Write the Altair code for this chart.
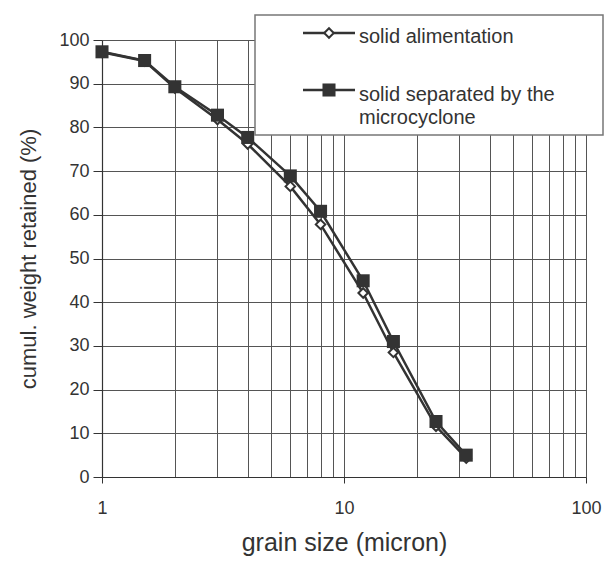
import altair as alt
import pandas as pd

# ---- data ----
grain_size = [1, 1.5, 2, 3, 4, 6, 8, 12, 16, 24, 32]
solid_alimentation = [97.2, 95.2, 89.0, 81.8, 76.2, 66.5, 57.8, 42.1, 28.5, 11.6, 4.3]
solid_separated = [97.3, 95.3, 89.3, 82.8, 77.7, 68.9, 60.8, 44.9, 31.0, 12.7, 5.0]
series_names = ["solid alimentation", "solid separated by the microcyclone"]
x_grid_values = [1, 2, 3, 4, 5, 6, 7, 8, 9, 10, 20, 30, 40, 50, 60, 70, 80, 90, 100]
y_tick_values = [0, 10, 20, 30, 40, 50, 60, 70, 80, 90, 100]

FONT = "Liberation Sans"
DARK = "#333333"

df_alim = pd.DataFrame({"grain": grain_size, "pct": solid_alimentation, "series": series_names[0]})
df_sep = pd.DataFrame({"grain": grain_size, "pct": solid_separated, "series": series_names[1]})

x_enc = alt.X(
    "grain:Q",
    scale=alt.Scale(type="log", domain=[1, 100]),
    title="grain size (micron)",
    axis=alt.Axis(
        values=x_grid_values,
        labelExpr="(datum.value == 1 || datum.value == 10 || datum.value == 100) ? datum.value : ''",
        labelFlush=False,
        labelOverlap=False,
        tickSize=6,
        tickColor={"condition": {"test": "datum.value == 1 || datum.value == 10 || datum.value == 100",
                                 "value": DARK}, "value": "transparent"},
        labelPadding=16,
        titlePadding=13,
        titleFontSize=25,
    ),
)
y_enc = alt.Y(
    "pct:Q",
    scale=alt.Scale(domain=[0, 100]),
    title="cumul. weight retained (%)",
    axis=alt.Axis(
        values=y_tick_values,
        tickSize=9,
        tickColor=DARK,
        labelPadding=4,
        titlePadding=18,
        titleFontSize=22,
    ),
)

line_alim = alt.Chart(df_alim).mark_line(color=DARK, strokeWidth=2.5).encode(x=x_enc, y=y_enc)
pts_alim = alt.Chart(df_alim).mark_point(
    shape="diamond", filled=True, fill="white", stroke=DARK, strokeWidth=2, size=90, opacity=1
).encode(x=x_enc, y=y_enc)
line_sep = alt.Chart(df_sep).mark_line(color=DARK, strokeWidth=2.5).encode(x=x_enc, y=y_enc)
pts_sep = alt.Chart(df_sep).mark_point(
    shape="square", filled=True, color=DARK, size=170, opacity=1
).encode(x=x_enc, y=y_enc)

# ---- legend box drawn by hand ----
one = pd.DataFrame({"k": [0]})
leg_box = alt.Chart(one).mark_rect(fill="white", stroke="#777777", strokeWidth=1.5).encode(
    x=alt.value(153), x2=alt.value(501), y=alt.value(-25), y2=alt.value(95)
)
leg_line1 = alt.Chart(one).mark_rule(color=DARK, strokeWidth=2.5).encode(
    x=alt.value(201), x2=alt.value(253), y=alt.value(-7)
)
leg_pt1 = alt.Chart(one).mark_point(
    shape="diamond", filled=True, fill="white", stroke=DARK, strokeWidth=2, size=90, opacity=1
).encode(x=alt.value(227), y=alt.value(-7))
leg_txt1 = alt.Chart(one).mark_text(align="left", baseline="middle", font=FONT, fontSize=20, color=DARK).encode(
    x=alt.value(257), y=alt.value(-3), text=alt.value(series_names[0])
)
leg_line2 = alt.Chart(one).mark_rule(color=DARK, strokeWidth=2.5).encode(
    x=alt.value(201), x2=alt.value(253), y=alt.value(50)
)
leg_pt2 = alt.Chart(one).mark_point(shape="square", filled=True, color=DARK, size=170, opacity=1).encode(
    x=alt.value(227), y=alt.value(50)
)
leg_txt2a = alt.Chart(one).mark_text(align="left", baseline="middle", font=FONT, fontSize=20, color=DARK).encode(
    x=alt.value(257), y=alt.value(55), text=alt.value("solid separated by the")
)
leg_txt2b = alt.Chart(one).mark_text(align="left", baseline="middle", font=FONT, fontSize=20, color=DARK).encode(
    x=alt.value(257), y=alt.value(78), text=alt.value("microcyclone")
)

chart = alt.layer(
    line_alim, pts_alim, line_sep, pts_sep,
    leg_box, leg_line1, leg_pt1, leg_txt1, leg_line2, leg_pt2, leg_txt2a, leg_txt2b,
).properties(
    width=484,
    height=437,
    padding={"left": 102, "top": 40, "right": 25, "bottom": 90},
    autosize=alt.AutoSizeParams(type="none"),
    background="white",
).configure_view(
    stroke=None
).configure_axis(
    labelFont=FONT,
    titleFont=FONT,
    labelFontSize=18,
    labelColor=DARK,
    titleColor=DARK,
    titleFontWeight="normal",
    grid=True,
    gridColor="#555555",
    gridWidth=1,
    gridOpacity=1,
    domainColor=DARK,
    domainWidth=1.2,
)

chart.save("out.html", embed_options={"renderer": "svg", "actions": False})
